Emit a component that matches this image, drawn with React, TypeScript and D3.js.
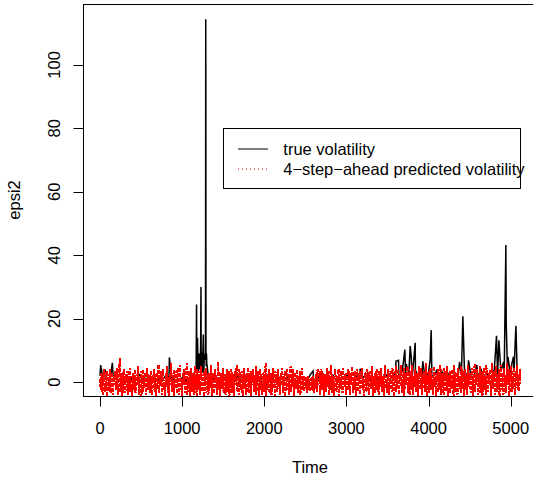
import React from "react";
import * as d3 from "d3";

// ---- data ----
const trueStep = 40;
const trueBase = [
  2, 0.5, 1.5, 0.3, 1.8, 0.8, 2.2, 0.4, 1.1, 0.2, 1.6, 0.9, 2.4, 0.5, 1.3, 0.7, 1.9, 0.3, 1.2, 0.6,
  2.1, 1.5, 0.4, 1.7, 0.9, 1.4, 0.3, 1.0, 2.0, 3.5, 6, 4.5, 8, 1.5, 0.6, 1.8, 0.4, 1.2, 2.3, 0.7,
  1.5, 0.3, 1.9, 0.8, 1.1, 2.5, 0.4, 1.3, 0.9, 1.7, 0.2, 1.4, 2.0, 0.6, 1.0, 1.8, 0.5, 1.2, 2.2, 0.3,
  1.6, 0.9, 1.3, 0.4, 2.4, 0.7, 1.1, 1.9, 0.5, 1.5, 0.8, 2.1, 0.3, 1.4, 1.0, 2.6, 0.6, 1.2, 1.8, 0.4,
  1.5, 2.2, 0.7, 1.1, 1.9, 0.5, 1.6, 2.4, 0.9, 1.3, 2.8, 1.0, 3.5, 1.6, 2.9, 1.2, 3.8, 1.4, 2.6, 0.9,
  3.2, 1.5, 2.4, 1.1, 3.6, 0.8, 2.7, 1.3, 3.0, 1.7, 2.2, 0.9, 3.4, 1.2, 2.5, 1.6, 3.9, 1.0, 2.8, 1.4,
  4.0, 2.1, 3.3, 1.5, 3.7, 2.4, 3.1, 1.8, 2.6,
];
const spikeTimes = [
  8, 61, 150, 844,
  1170, 1175, 1178, 1180, 1183, 1187, 1190, 1195, 1198, 1205, 1210, 1215, 1220, 1225, 1229, 1232,
  1235, 1238, 1241, 1245, 1250, 1253, 1258, 1262, 1265, 1270, 1275, 1284, 1287, 1288, 1290, 1293,
  1296, 1300,
  2594, 3167, 3602, 3634, 3711, 3727, 3776, 3788, 3837, 3930, 4019, 4032, 4101, 4377, 4417,
  4486, 4588, 4827, 4856, 4912, 4941, 4945, 4966, 5015, 5034, 5063,
];
const spikeValues = [
  5.4, 4, 6.1, 7.8,
  3, 24.5, 9, 3, 4, 14, 10, 5, 3.5, 8, 9, 4, 5, 12, 30, 4,
  6, 8, 9.5, 3, 3.5, 10, 15, 3, 4, 9, 7, 8, 114.4, 100, 10, 5,
  9, 6,
  3.5, 4.2, 6.6, 6.9, 10.3, 5.7, 11.4, 8.2, 12.4, 6.6, 7.1, 16.4, 4, 6.4, 20.8,
  6.9, 5.4, 14.6, 13.2, 6.4, 43.2, 19, 8, 6, 8, 17.8,
];
const predStep = 8;
const predValues = [
  1, -2.5, 3, 0.5, -4, 2, 4, -1.5, -3, 1.5, 3.5, -4.5, 0, 2.5, -2, 4, -3.5, 1, 3, -1,
  -4, 2, 0.5, 3.5, -2.5, -0.5, 4.5, -4, 1.5, 2.5, 7.5, -3, 0, 3, -4.5, 1, 4, -2, -3.5, 2.5,
  0.5, 3.5, -4, 1.5, -1.5, 4.5, -3, 0, 2, -4.5, 3, 1, -2.5, 4, -3.5, 0.5, 2.5, -1, 5, -4,
  1.5, -2, 3.5, -4.5, 0, 4, -3, 2, -1, 3, -4, 1, 4.5, -2.5, 0.5, 2, -3.5, 3.5, -1.5, -4,
  2.5, 0, 4, -3, 1.5, -4.5, 3, -2, 0.5, 5.5, -3.5, 1, -1, 3.5, -4, 2, 4, -2.5, 0, -4.5,
  3, -1.5, 5, -3.5, 1.5, -4.5, 2.5, 0, 6, -3, 1, -2, 4, -4.5, 2, 3.5, -1, -3.5, 4.5, 0.5,
  -4, 2.5, 5.5, -2.5, 1, -4.5, 3, -1, 4, 0, -3.5, 2, 6, -4, 1.5, -2, 3.5, -4.5, 0.5, 4.5,
  -3, 1, 3, -4, 5, -1.5, 2, -4.5, 4, 0.5, -2.5, 3.5, -4, 1.5, 5, -3, 0, 2.5, -4.5, 3.5,
  -1, 4.5, -3.5, 1, 2.5, -4, 3, -2, 0.5, 5.5, -4.5, 1.5, 3, -1.5, -3.5, 4, 0, 2, -4, 3.5,
  6.5, -2.5, 1, -4.5, 3, 0.5, -2, 4.5, -3.5, 1.5, 2.5, -4, 0, 4, -3, 1, 3.5, -4.5, 2, -1,
  4, -3.5, 0.5, 2.5, -4.5, 3.5, -1, 1.5, 5.5, -3, 0, -4, 4, 2, -2.5, 1, 3.5, -4.5, 0.5, 4.5,
  -2, 2, -4, 3, 0, 4.5, -3.5, 1.5, -1.5, 3.5, -4.5, 2.5, 0.5, 4, -3, 1, -2, 5, -4, 2,
  0, 3.5, -4.5, 1.5, 4, -2.5, 0.5, -4, 3, 2, -3, 1, 6, -4.5, 0, 2.5, -1.5, 4, -3.5, 1.5,
  3, -4, 0.5, 4.5, -2, 1, -4.5, 3.5, 0, 2, -3, 4, -1, 1.5, -4, 3, 0.5, 4.5, -3.5, 2,
  -1, 3.5, -4.5, 1, 4, -2.5, 0, 2.5, -4, 3, 5, -3, 1.5, -1.5, 4, -4.5, 0.5, 3, -2, 1,
  4, -3.5, 2, -0.5, 3.5, -4, 1.5, 4.5, -2.5, 0.5, 2, -3, 1, -2, 1.5, -3.5, 0, 2, -2.5, 1,
  -3, 0.5, 1.5, -2.5, 2, -3.5, 0, 1, -2, 2.5, -3, 4, -1, 0.5, 3.5, -4, 1.5, 4, -2.5, 0,
  3, -4.5, 1, 2.5, -3, 4.5, -1.5, 0, 3.5, -4, 2, -2, 5.5, -3.5, 0.5, 1.5, -4.5, 3, 4, -1,
  -3, 2, 0.5, 4, -4.5, 1.5, -2, 3.5, 0, -3.5, 4.5, 1, -1.5, 2.5, -4, 3, 0, -2.5, 4, 1.5,
  -4, 3, -1, 2, 5, -3.5, 0.5, -2, 3.5, -4.5, 1, 4, -3, 2, -0.5, 3.5, -4, 1.5, 0, 4.5,
  -2.5, 1, -4.5, 3, 2, -3, 0.5, 4, -1.5, -4, 2.5, 3.5, -2, 0, 5, -4.5, 1.5, -1, 3, -3.5,
  2, 4, -2.5, 0.5, -4, 3.5, 1, -1.5, 4.5, -3, 0, 2, -4.5, 3, 5.5, -2, 1, -3.5, 4, 0.5,
  -4, 2.5, 3.5, -1, -3, 4.5, 1, -4.5, 2, 0, 5, -3, 1.5, -1.5, 4, -4, 2.5, 0.5, 5.5, -3.5,
  1, -2, 4.5, -4.5, 2, 3, -1, 0.5, 5, -3.5, 1.5, -4, 3.5, 0, -2.5, 5.5, -4, 2, 1, -1.5,
  4, -3, 0.5, 3, -4.5, 5, 1.5, -2, -0.5, 4.5, -4, 2.5, 0, 3.5, -3, 1, 6, -4.5, 2, -1,
  3.5, -3.5, 1, 4.5, -2.5, 0, 2, -4, 5, -1.5, 1.5, -4.5, 3, 0.5, 4, -3, 2, -2, 5.5, -4,
  1, 3, -1.5, -4, 4.5, 0.5, 2.5, -3, 5, -4.5, 1.5, -0.5, 3.5, -3.5, 0, 4, -2, 2, -4.5, 5.5,
  0.5, -3, 3, 1, -4, 4.5, -1.5, 2, 0, -3.5, 5, -2, 1.5, 3.5, -4.5, 0.5, 4, -2.5, 2.5, -4,
  5.5, -1, 1, 3, -3.5, 0, 4.5, -4.5, 2, -2, 6, -3, 1.5, 0.5, 4, -4, 2.5, -1.5, 5, -3.5,
  1, 3.5, -4.5, 0.5, 4.5, -2.5, 2, -4, 5.5, 0, -3, 3, 1.5, -1, 4, -4.5, 2, 6, -2, 0.5,
  3.5, -4, 1, 5, -3, 2.5, -1.5, 4, -4.5, 0.5, 5.5, -2.5, 3, 1, -4, 4.5, -0.5, 2, -3.5, 6,
  -1, 1.5, 4, -4.5, 3, 0, 5, -3, 2, -2, 4.5, 1, -4, 3.5, 0.5, 5.5, -2.5, 2.5, -3, 4,
  1.5,
];
const xTicks = [0, 1000, 2000, 3000, 4000, 5000];
const yTicks = [0, 20, 40, 60, 80, 100];
const legendLabels = ["true volatility", "4\u2212step\u2212ahead predicted volatility"];

const W = 533;
const H = 481;
const FONT = "'Liberation Sans', Arial, Helvetica, sans-serif";
const FS = 16.5;

export default function App() {
  const left = 83.5, right = 537.4, top = 4.5, bottom = 396.5;
  const x = d3.scaleLinear().domain([-204.8, 5324.8]).range([83.2, 537.4]);
  const y = d3.scaleLinear().domain([-4.58, 118.98]).range([396.7, 4.7]);

  const truePts: [number, number][] = trueBase.map((v, i) => [i * trueStep, v]);
  spikeTimes.forEach((t, i) => truePts.push([t, spikeValues[i]]));
  truePts.sort((a, b) => a[0] - b[0]);
  const predPts: [number, number][] = predValues.map((v, i) => [i * predStep, v]);

  const line = d3.line<[number, number]>().x((d) => x(d[0])).y((d) => y(d[1]));

  return (
    <svg width={W} height={H} style={{ position: "absolute", left: 0, top: 0, background: "#fff" }}
      fontFamily={FONT}>
      <defs>
        <clipPath id="plotclip">
          <rect x={left} y={top} width={right - left} height={bottom - top} />
        </clipPath>
      </defs>
      <rect x={0} y={0} width={W} height={H} fill="#fff" />
      <g clipPath="url(#plotclip)">
        <path d={line(truePts) || ""} fill="none" stroke="#000" strokeWidth={1.5} />
        <path d={line(predPts) || ""} fill="none" stroke="#ff0000" strokeWidth={2}
          strokeDasharray="4,1" shapeRendering="crispEdges" />
      </g>
      <rect x={left} y={top} width={right - left} height={bottom - top} fill="none" stroke="#000"
        strokeWidth={1} />
      {/* x axis */}
      <line x1={x(0)} x2={x(5000)} y1={bottom} y2={bottom} stroke="#000" />
      {xTicks.map((t) => (
        <g key={t}>
          <line x1={Math.round(x(t)) + 0.5} x2={Math.round(x(t)) + 0.5} y1={bottom} y2={bottom + 10}
            stroke="#000" />
          <text x={x(t)} y={433.5} fontSize={FS} textAnchor="middle" fill="#000">{t}</text>
        </g>
      ))}
      {/* y axis */}
      {yTicks.map((t) => (
        <g key={t}>
          <line x1={left - 10} x2={left} y1={Math.round(y(t)) + 0.5} y2={Math.round(y(t)) + 0.5}
            stroke="#000" />
          <text transform={`translate(59.5,${y(t)}) rotate(-90)`} fontSize={FS} textAnchor="middle"
            fill="#000">{t}</text>
        </g>
      ))}
      <text x={310} y={473} fontSize={FS} textAnchor="middle" fill="#000">Time</text>
      <text transform="translate(20,200) rotate(-90)" fontSize={FS} textAnchor="middle" fill="#000">epsi2</text>
      {/* legend */}
      <rect x={223.5} y={128.5} width={297} height={60} fill="#fff" stroke="#000" strokeWidth={1} />
      <line x1={238} x2={268} y1={149} y2={149} stroke="#000" strokeWidth={1} />
      <line x1={238} x2={268} y1={169} y2={169} stroke="#ff0000" strokeWidth={1} strokeDasharray="1,3" />
      <text x={283.3} y={154.5} fontSize={FS} fill="#000">{legendLabels[0]}</text>
      <text x={283.3} y={174.5} fontSize={FS} fill="#000">{legendLabels[1]}</text>
    </svg>
  );
}
